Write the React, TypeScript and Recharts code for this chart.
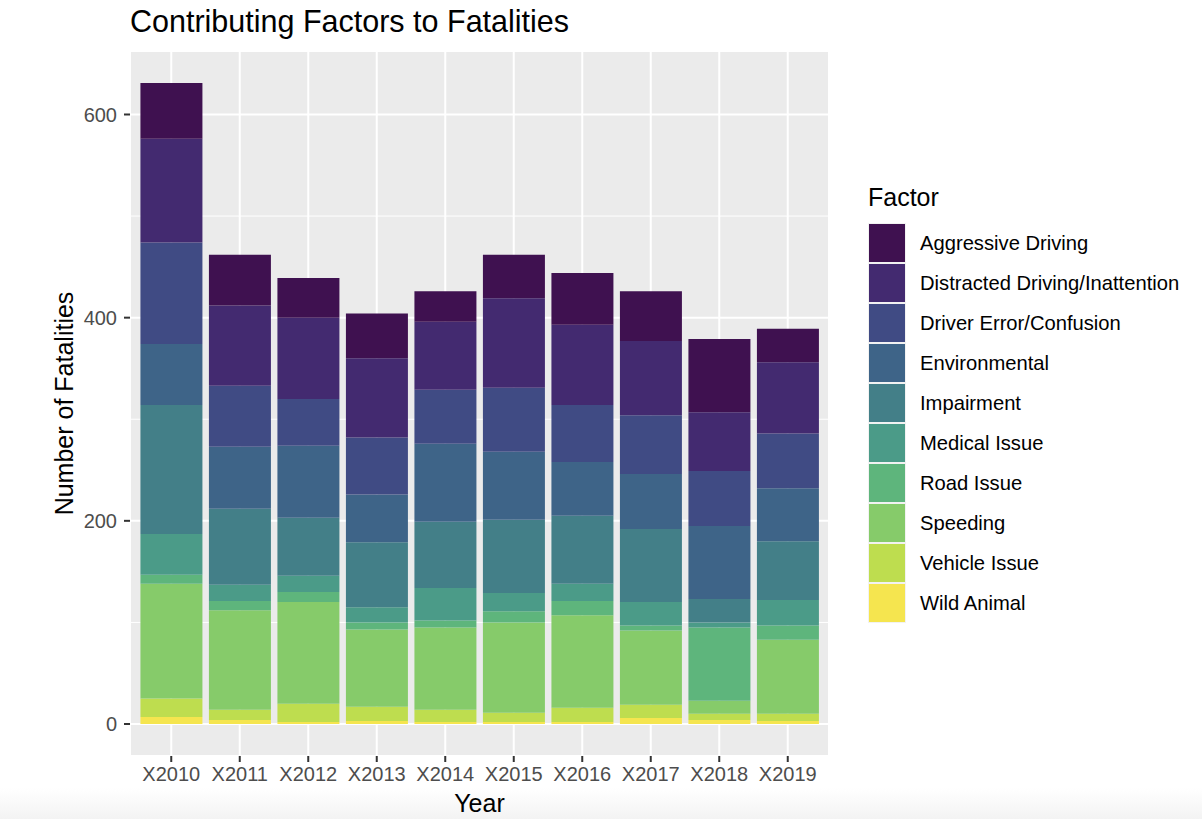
import React from "react";
import { BarChart, Bar, XAxis, YAxis, CartesianGrid, Legend } from "recharts";

// Categories
const YEARS = ["X2010", "X2011", "X2012", "X2013", "X2014", "X2015", "X2016", "X2017", "X2018", "X2019"];

// Fatalities per factor, one value per year
const wildAnimal = [7, 4, 2, 3, 2, 2, 2, 6, 4, 3];
const vehicleIssue = [18, 10, 18, 14, 12, 9, 14, 13, 6, 7];
const speeding = [113, 98, 100, 76, 81, 89, 91, 73, 13, 73];
const roadIssue = [9, 9, 10, 7, 7, 11, 14, 5, 72, 14];
const medicalIssue = [40, 16, 16, 15, 32, 18, 17, 23, 5, 25];
const impairment = [127, 75, 57, 64, 65, 72, 67, 72, 23, 58];
const environmental = [60, 61, 71, 47, 77, 67, 53, 54, 72, 52];
const driverError = [100, 60, 46, 56, 53, 63, 56, 58, 54, 54];
const distracted = [102, 79, 80, 78, 67, 88, 79, 73, 58, 70];
const aggressive = [55, 50, 39, 44, 30, 43, 51, 49, 72, 33];

// Axis ticks
const Y_TICKS = [0, 200, 400, 600];
const Y_MINOR = [100, 300, 500];

// Stack order: bottom to top
const SERIES = [
  { key: "wild", name: "Wild Animal", values: wildAnimal, color: "#F5E54F" },
  { key: "vehicle", name: "Vehicle Issue", values: vehicleIssue, color: "#BEDD4F" },
  { key: "speeding", name: "Speeding", values: speeding, color: "#86CB6A" },
  { key: "road", name: "Road Issue", values: roadIssue, color: "#5EB57C" },
  { key: "medical", name: "Medical Issue", values: medicalIssue, color: "#4B9B88" },
  { key: "impairment", name: "Impairment", values: impairment, color: "#437F88" },
  { key: "environmental", name: "Environmental", values: environmental, color: "#3E6488" },
  { key: "driverError", name: "Driver Error/Confusion", values: driverError, color: "#404B84" },
  { key: "distracted", name: "Distracted Driving/Inattention", values: distracted, color: "#432A70" },
  { key: "aggressive", name: "Aggressive Driving", values: aggressive, color: "#3F1150" },
];

const data = YEARS.map((year, i) => {
  const row: Record<string, any> = { year };
  SERIES.forEach((s) => {
    row[s.key] = s.values[i];
  });
  return row;
});

const FONT = "'Liberation Sans', Arial, Helvetica, sans-serif";
const PANEL_BG = "#EBEBEB";
const TICK_TEXT = "#4D4D4D";
const TICK_LINE = "#333333";

function FactorLegend() {
  // legend lists top of stack first
  const items = SERIES.slice().reverse();
  return (
    <div style={{ fontFamily: FONT, color: "#000" }}>
      <div style={{ fontSize: 25, lineHeight: "30px", marginBottom: 11 }}>Factor</div>
      {items.map((s) => (
        <div key={s.key} style={{ display: "flex", alignItems: "center", height: 40 }}>
          <div
            style={{
              width: 38,
              height: 40,
              boxSizing: "border-box",
              border: "1.5px solid #F2F2F2",
              background: s.color,
            }}
          />
          <span style={{ fontSize: 20.2, marginLeft: 14, whiteSpace: "nowrap" }}>{s.name}</span>
        </div>
      ))}
    </div>
  );
}

export default function App() {
  return (
    <div
      style={{
        position: "absolute",
        left: 0,
        top: 0,
        width: 1202,
        height: 819,
        background: "linear-gradient(to bottom, #ffffff 0px, #ffffff 788px, #f3f3f3 819px)",
        fontFamily: FONT,
      }}
    >
      <div
        style={{
          position: "absolute",
          left: 130,
          top: 5.5,
          fontSize: 30.5,
          lineHeight: "30px",
          color: "#000",
          whiteSpace: "nowrap",
        }}
      >
        Contributing Factors to Fatalities
      </div>
      <BarChart
        width={1202}
        height={819}
        data={data}
        margin={{ top: 51, right: 373, bottom: 0, left: 0 }}
        barCategoryGap="5%"
        style={{ position: "absolute", left: 0, top: 0 }}
      >
        <CartesianGrid fill={PANEL_BG} stroke="#FFFFFF" strokeWidth={2} />
        <CartesianGrid
          vertical={false}
          horizontalValues={Y_MINOR}
          stroke="#FFFFFF"
          strokeWidth={1}
        />
        <XAxis
          dataKey="year"
          type="category"
          height={63}
          padding={{ left: 7, right: 7 }}
          axisLine={false}
          tickLine={{ stroke: TICK_LINE, strokeWidth: 2 }}
          tickSize={6}
          tickMargin={5}
          tick={{ fontSize: 20, fill: TICK_TEXT, fontFamily: FONT }}
          interval={0}
          label={{
            value: "Year",
            position: "insideBottom",
            offset: 7,
            style: { fontSize: 25, fill: "#000", fontFamily: FONT },
          }}
        />
        <YAxis
          type="number"
          width={130}
          domain={[-31.5, 662.5]}
          ticks={Y_TICKS}
          axisLine={false}
          tickLine={{ stroke: TICK_LINE, strokeWidth: 2 }}
          tickSize={6}
          tickMargin={7}
          tick={{ fontSize: 20, fill: TICK_TEXT, fontFamily: FONT }}
          label={{
            value: "Number of Fatalities",
            angle: -90,
            position: "insideLeft",
            offset: 64,
            style: { fontSize: 25, fill: "#000", fontFamily: FONT, textAnchor: "middle" },
          }}
        />
        <Legend
          layout="vertical"
          align="center"
          verticalAlign="middle"
          content={() => <FactorLegend />}
          wrapperStyle={{ left: 868, top: 182, width: 330, bottom: "auto", right: "auto" }}
        />
        {SERIES.map((s) => (
          <Bar
            key={s.key}
            dataKey={s.key}
            name={s.name}
            stackId="total"
            fill={s.color}
            isAnimationActive={false}
          />
        ))}
      </BarChart>
    </div>
  );
}
